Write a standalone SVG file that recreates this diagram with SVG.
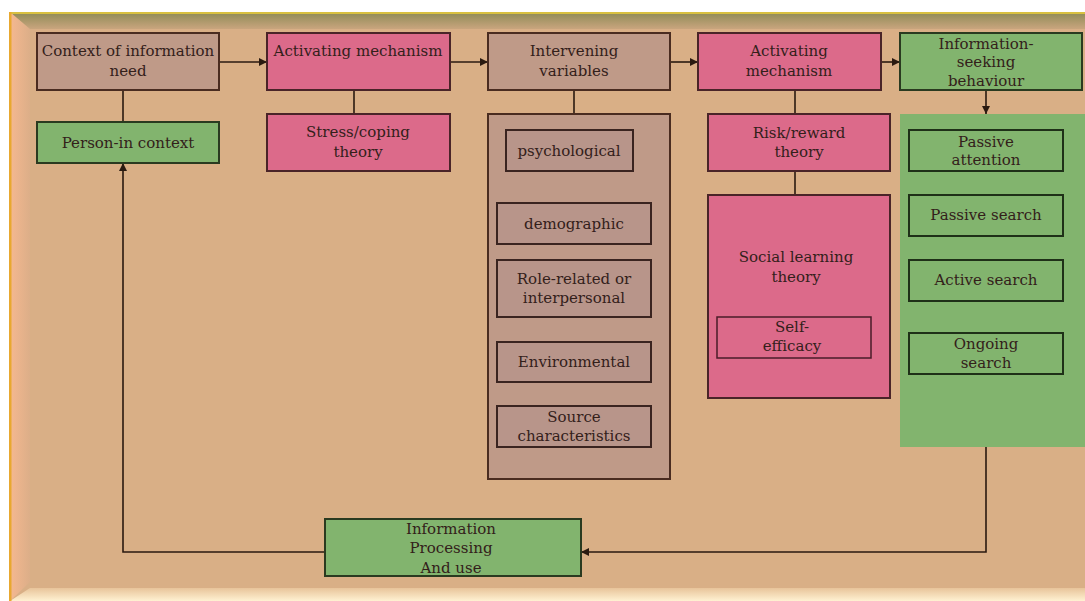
<svg xmlns="http://www.w3.org/2000/svg" width="1085" height="601" viewBox="0 0 1085 601">
<defs>
<linearGradient id="topBevel" x1="0" y1="0" x2="0" y2="1">
<stop offset="0" stop-color="#8d8a55"/>
<stop offset="1" stop-color="#c9a57e"/>
</linearGradient>
<linearGradient id="leftBevel" x1="0" y1="0" x2="1" y2="0">
<stop offset="0" stop-color="#f5b890"/>
<stop offset="1" stop-color="#dcae88"/>
</linearGradient>
<linearGradient id="botBevel" x1="0" y1="0" x2="0" y2="1">
<stop offset="0" stop-color="#e8c49a"/>
<stop offset="1" stop-color="#fff1d2"/>
</linearGradient>
<marker id="arr" viewBox="0 0 10 10" refX="10" refY="5" markerWidth="8" markerHeight="8" markerUnits="userSpaceOnUse" orient="auto">
<path d="M0,0 L10,5 L0,10 z" fill="#2a1a10"/>
</marker>
</defs>
<style>
.mauve{fill:#bf9a88;stroke:#4a2c20;stroke-width:2}
.pink{fill:#dc6a8a;stroke:#4a2428;stroke-width:2}
.green{fill:#82b46e;stroke:#2a3a20;stroke-width:2}
.inmauve{fill:#b8958a;stroke:#3a2420;stroke-width:2}
.inpink{fill:none;stroke:#4a1c28;stroke-width:1.5}
.ingreen{fill:none;stroke:#1f3018;stroke-width:2}
text{font-family:"DejaVu Serif","Liberation Serif",serif;font-size:15px;fill:#33201a;text-anchor:middle}
.c line,.c polyline{stroke:#2a1a10;stroke-width:1.6;fill:none}
</style>
<rect x="0" y="0" width="1085" height="601" fill="#ffffff"/>
<rect x="10" y="12" width="1075" height="589" fill="#d9af86"/>
<rect x="10" y="12" width="1075" height="17" fill="url(#topBevel)"/>
<polygon points="10,12 30,29 30,582 10,601" fill="url(#leftBevel)"/>
<polygon points="10,601 30,588 1085,588 1085,601" fill="url(#botBevel)"/>
<rect x="10" y="12" width="1075" height="2" fill="#d8c040"/>
<rect x="9" y="12" width="2.5" height="589" fill="#e8a830"/>

<g class="c" id="connectors">
<line x1="219" y1="62" x2="267" y2="62" marker-end="url(#arr)"/>
<line x1="450" y1="62" x2="488" y2="62" marker-end="url(#arr)"/>
<line x1="670" y1="62" x2="698" y2="62" marker-end="url(#arr)"/>
<line x1="881" y1="62" x2="900" y2="62" marker-end="url(#arr)"/>
<line x1="123" y1="90" x2="123" y2="122"/>
<line x1="354" y1="90" x2="354" y2="114"/>
<line x1="574" y1="90" x2="574" y2="114"/>
<line x1="795" y1="90" x2="795" y2="114"/>
<line x1="795" y1="171" x2="795" y2="195"/>
<line x1="986" y1="90" x2="986" y2="114" marker-end="url(#arr)"/>
<polyline points="986,447 986,552 581,552" marker-end="url(#arr)"/>
<polyline points="325,552 123,552 123,163" marker-end="url(#arr)"/>
</g>

<g id="context">
<rect class="mauve" x="37" y="33" width="182" height="57"/>
<text x="128" y="56">Context of information</text>
<text x="128" y="76">need</text>
</g>
<g id="person">
<rect class="green" x="37" y="122" width="182" height="41"/>
<text x="128" y="148">Person-in context</text>
</g>
<g id="activating1">
<rect class="pink" x="267" y="33" width="183" height="57"/>
<text x="358" y="56">Activating mechanism</text>
</g>
<g id="stress">
<rect class="pink" x="267" y="114" width="183" height="57"/>
<text x="358" y="137">Stress/coping</text>
<text x="358" y="157">theory</text>
</g>
<g id="intervening">
<rect class="mauve" x="488" y="33" width="182" height="57"/>
<text x="574" y="56">Intervening</text>
<text x="574" y="76">variables</text>
</g>
<g id="variables">
<rect class="mauve" x="488" y="114" width="182" height="365"/>
</g>
<g id="psychological">
<rect class="inmauve" x="506" y="130" width="127" height="41"/>
<text x="569" y="156">psychological</text>
</g>
<g id="demographic">
<rect class="inmauve" x="497" y="203" width="154" height="41"/>
<text x="574" y="229">demographic</text>
</g>
<g id="role">
<rect class="inmauve" x="497" y="260" width="154" height="57"/>
<text x="574" y="284">Role-related or</text>
<text x="574" y="303">interpersonal</text>
</g>
<g id="environmental">
<rect class="inmauve" x="497" y="342" width="154" height="40"/>
<text x="574" y="367">Environmental</text>
</g>
<g id="source">
<rect class="inmauve" x="497" y="406" width="154" height="41"/>
<text x="574" y="422">Source</text>
<text x="574" y="441">characteristics</text>
</g>
<g id="activating2">
<rect class="pink" x="698" y="33" width="183" height="57"/>
<text x="789" y="56">Activating</text>
<text x="789" y="76">mechanism</text>
</g>
<g id="risk">
<rect class="pink" x="708" y="114" width="182" height="57"/>
<text x="799" y="138">Risk/reward</text>
<text x="799" y="157">theory</text>
</g>
<g id="social">
<rect class="pink" x="708" y="195" width="182" height="203"/>
<text x="796" y="262">Social learning</text>
<text x="796" y="282">theory</text>
</g>
<g id="selfefficacy">
<rect class="inpink" x="717" y="317" width="154" height="41"/>
<text x="792" y="332">Self-</text>
<text x="792" y="351">efficacy</text>
</g>
<g id="seeking">
<rect class="green" x="900" y="33" width="182" height="57"/>
<text x="986" y="49">Information-</text>
<text x="986" y="67">seeking</text>
<text x="986" y="86">behaviour</text>
</g>
<g id="seekingpanel">
<rect x="900" y="114" width="185" height="333" fill="#82b46e"/>
</g>
<g id="passiveattention">
<rect class="ingreen" x="909" y="130" width="154" height="41"/>
<text x="986" y="147">Passive</text>
<text x="986" y="165">attention</text>
</g>
<g id="passivesearch">
<rect class="ingreen" x="909" y="195" width="154" height="41"/>
<text x="986" y="220">Passive search</text>
</g>
<g id="activesearch">
<rect class="ingreen" x="909" y="260" width="154" height="41"/>
<text x="986" y="285">Active search</text>
</g>
<g id="ongoing">
<rect class="ingreen" x="909" y="333" width="154" height="41"/>
<text x="986" y="349">Ongoing</text>
<text x="986" y="368">search</text>
</g>
<g id="processing">
<rect class="green" x="325" y="519" width="256" height="57"/>
<text x="451" y="534">Information</text>
<text x="451" y="553">Processing</text>
<text x="451" y="573">And use</text>
</g>
</svg>
